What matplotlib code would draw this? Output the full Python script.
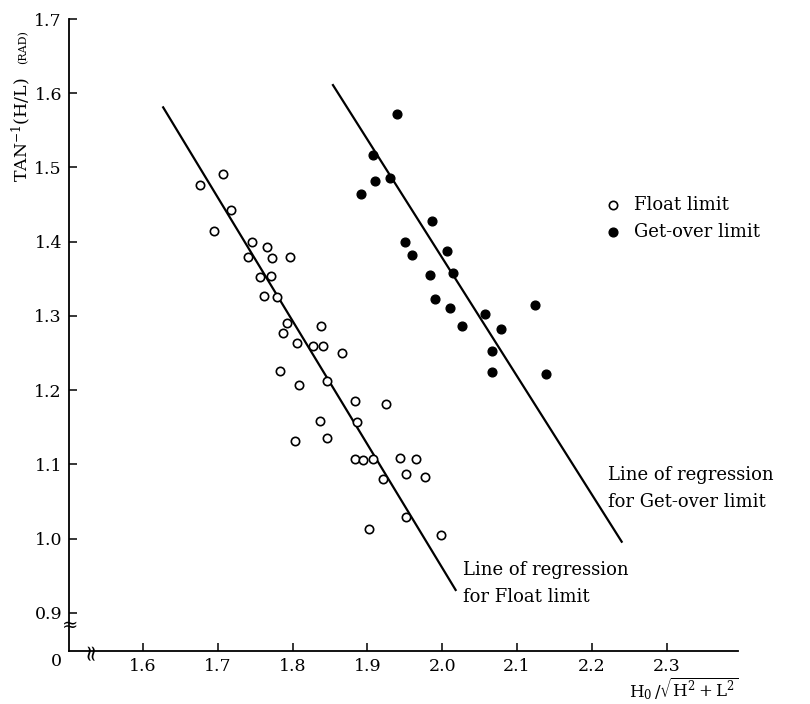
import matplotlib
matplotlib.use("Agg")
import matplotlib.pyplot as plt

plt.rcParams['font.family'] = ['DejaVu Serif']
plt.rcParams['mathtext.fontset'] = 'dejavuserif'

# ---- data ----
float_x = [1.676, 1.707, 1.718, 1.695, 1.746, 1.766, 1.740, 1.773, 1.796, 1.756,
           1.771, 1.762, 1.779, 1.792, 1.838, 1.787, 1.806, 1.827, 1.841, 1.866,
           1.783, 1.809, 1.846, 1.883, 1.925, 1.836, 1.886, 1.803, 1.846, 1.883,
           1.894, 1.908, 1.944, 1.965, 1.921, 1.952, 1.977, 1.951, 1.902, 1.998]
float_y = [1.476, 1.491, 1.443, 1.415, 1.399, 1.393, 1.380, 1.378, 1.380, 1.352,
           1.354, 1.327, 1.325, 1.290, 1.287, 1.277, 1.263, 1.259, 1.260, 1.250,
           1.226, 1.207, 1.213, 1.186, 1.181, 1.158, 1.157, 1.132, 1.136, 1.107,
           1.106, 1.107, 1.109, 1.108, 1.081, 1.087, 1.083, 1.029, 1.013, 1.005]

getover_x = [1.939, 1.908, 1.910, 1.930, 1.892, 1.987, 1.950, 1.959, 2.007, 2.015,
             1.984, 1.990, 2.010, 2.027, 2.057, 2.078, 2.124, 2.067, 2.066, 2.139]
getover_y = [1.572, 1.517, 1.482, 1.486, 1.464, 1.428, 1.400, 1.382, 1.387, 1.358,
             1.355, 1.323, 1.311, 1.287, 1.303, 1.283, 1.315, 1.253, 1.224, 1.222]

float_line_x = [1.627, 2.018]
float_line_y = [1.581, 0.931]
getover_line_x = [1.854, 2.240]
getover_line_y = [1.611, 0.996]

x_ticks = [1.6, 1.7, 1.8, 1.9, 2.0, 2.1, 2.2, 2.3]
y_ticks = [0.9, 1.0, 1.1, 1.2, 1.3, 1.4, 1.5, 1.6, 1.7]

legend_labels = ['Float limit', 'Get-over limit']

W, H = 810, 704
fig = plt.figure(figsize=(W / 100, H / 100), dpi=100)

def fx(px):
    return px / W

def fy(py):
    return 1 - py / H

ax = fig.add_axes([fx(69), fy(651), fx(738) - fx(69), fy(19) - fy(651)])
ax.set_xlim(1.5011, 2.3955)
ax.set_ylim(0.8488, 1.7)

for s in ['top', 'right']:
    ax.spines[s].set_visible(False)
for s in ['left', 'bottom']:
    ax.spines[s].set_linewidth(1.3)

ax.set_xticks(x_ticks)
ax.set_xticklabels([f'{v:.1f}' for v in x_ticks])
ax.set_yticks(y_ticks)
ax.set_yticklabels([f'{v:.1f}' for v in y_ticks])
ax.tick_params(axis='both', direction='in', length=6, width=1.1, labelsize=12.5)
ax.tick_params(axis='x', pad=5)
ax.tick_params(axis='y', pad=5)

# regression lines
ax.plot(float_line_x, float_line_y, color='black', lw=1.6)
ax.plot(getover_line_x, getover_line_y, color='black', lw=1.6)

# points
ax.plot(float_x, float_y, linestyle='none', marker='o', markersize=6,
        markerfacecolor='white', markeredgecolor='black', markeredgewidth=1.2)
ax.plot(getover_x, getover_y, linestyle='none', marker='o', markersize=6.3,
        markerfacecolor='black', markeredgecolor='black')

# legend (manual)
fig.lines.append(plt.Line2D([fx(613)], [fy(205)], transform=fig.transFigure,
                            linestyle='none', marker='o', markersize=6,
                            markerfacecolor='white', markeredgecolor='black',
                            markeredgewidth=1.2))
fig.lines.append(plt.Line2D([fx(613)], [fy(232)], transform=fig.transFigure,
                            linestyle='none', marker='o', markersize=6.3,
                            markerfacecolor='black', markeredgecolor='black'))
fig.text(fx(634), fy(205), legend_labels[0], fontsize=13, ha='left', va='center')
fig.text(fx(634), fy(232), legend_labels[1], fontsize=13, ha='left', va='center')

# annotations
fig.text(fx(463), fy(570), 'Line of regression', fontsize=13, ha='left', va='center')
fig.text(fx(463), fy(597), 'for Float limit', fontsize=13, ha='left', va='center')
fig.text(fx(608), fy(475), 'Line of regression', fontsize=13, ha='left', va='center')
fig.text(fx(608), fy(502), 'for Get-over limit', fontsize=13, ha='left', va='center')

# axis labels
fig.text(fx(21), fy(130), r'TAN$^{-1}$(H/L)', fontsize=12.5, rotation=90,
         ha='center', va='center')
fig.text(fx(23), fy(47), '(RAD)', fontsize=8, rotation=90, ha='center', va='center')
fig.text(fx(738), fy(689), r'$\mathrm{H_0}\,/\sqrt{\mathrm{H^2}+\mathrm{L^2}}$',
         fontsize=12, ha='right', va='center')

# origin and breaks
fig.text(fx(56), fy(662), '0', fontsize=12.5, ha='center', va='center')
fig.text(fx(70), fy(626), '≈', fontsize=14, ha='center', va='center')
fig.text(fx(91), fy(651), '≈', fontsize=16, rotation=90, ha='center', va='center')

fig.savefig('out.png', dpi=100)
